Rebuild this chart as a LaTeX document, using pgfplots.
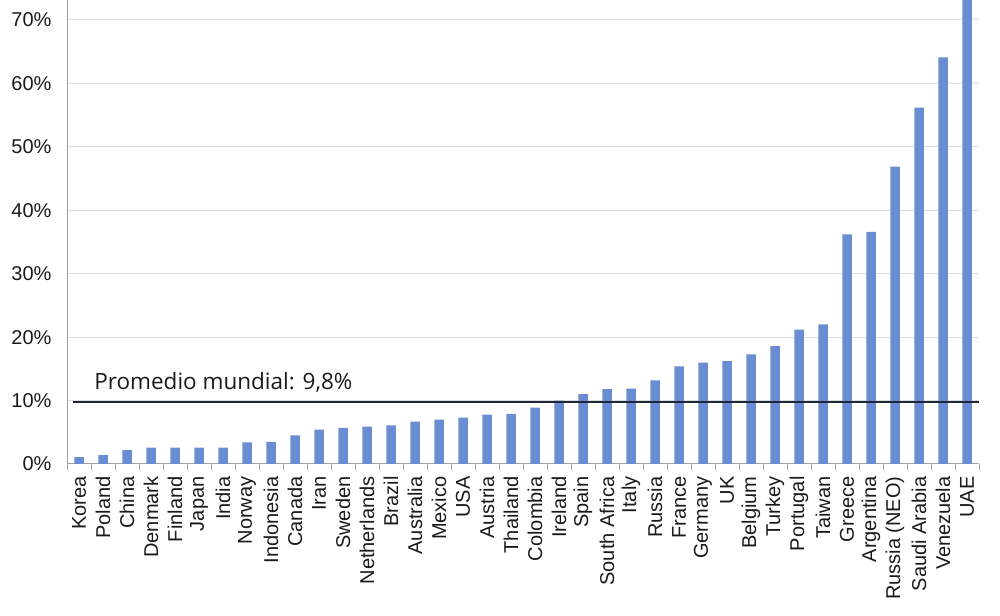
\documentclass[border=0pt]{standalone}
\usepackage{fontspec}
\setmainfont{Liberation Sans}
\newfontfamily\labelfont{Open Sans}
\usepackage{pgfplots}
\usepackage{pgfplotstable}
\pgfplotsset{compat=1.18}
\definecolor{barblue}{HTML}{6A8CD2}
\definecolor{avgline}{HTML}{1E2838}
\definecolor{gridgray}{HTML}{DCDCDC}
\definecolor{axisgray}{HTML}{A0A0A0}
\definecolor{txt}{HTML}{1A1A1A}
\newcommand{\tfont}{\fontsize{20}{20}\selectfont}
\newcommand{\xfont}{\fontsize{20}{20}\selectfont}
\pgfplotstableread[col sep=comma]{
idx,value
0,1.1
1,1.4
2,2.2
3,2.6
4,2.6
5,2.6
6,2.6
7,3.4
8,3.5
9,4.5
10,5.4
11,5.7
12,5.9
13,6.1
14,6.7
15,7.0
16,7.3
17,7.8
18,7.9
19,8.9
20,10.0
21,11.0
22,11.8
23,11.9
24,13.2
25,15.4
26,16.0
27,16.2
28,17.3
29,18.6
30,21.2
31,22.0
32,36.2
33,36.6
34,46.9
35,56.2
36,64.1
37,80.0
}\datatable
\begin{document}
\begin{tikzpicture}
\path[use as bounding box] (0,0) rectangle (1000pt,615pt);
\begin{axis}[
  at={(67pt,151pt)}, anchor=south west,
  scale only axis,
  width=912pt, height=464pt,
  xmin=-0.5, xmax=37.5,
  ymin=0, ymax=73.15,
  axis lines*=left,
  axis line style={axisgray, line width=1pt},
  ymajorgrids,
  grid style={gridgray, line width=1pt},
  ytick={0,10,20,30,40,50,60,70},
  yticklabels={0\%,10\%,20\%,30\%,40\%,50\%,60\%,70\%},
  xtick={0,...,37},
  xticklabels={Korea,Poland,China,Denmark,Finland,Japan,India,Norway,Indonesia,Canada,Iran,Sweden,Netherlands,Brazil,Australia,Mexico,USA,Austria,Thailand,Colombia,Ireland,Spain,South Africa,Italy,Russia,France,Germany,UK,Belgium,Turkey,Portugal,Taiwan,Greece,Argentina,Russia (NEO),Saudi Arabia,Venezuela,UAE},
  minor xtick={-0.5,0.5,...,37.5},
  tick align=outside,
  major tick length=0pt,
  minor tick length=6pt,
  minor tick style={axisgray, line width=1pt},
  y tick label style={font=\tfont, text=txt, xshift=-12pt},
  x tick label style={font=\xfont, text=txt, yshift=-9pt, rotate=90, anchor=east},
  clip=true,
]
\addplot[ybar, bar width=9.5pt, fill=barblue, draw=none] table[x=idx, y=value] {\datatable};
\addplot[avgline, line width=1.6pt] coordinates {(-0.27,9.8) (37.52,9.8)};
\node[anchor=base west, text=txt, font=\labelfont\fontsize{22.5}{23}\selectfont, inner sep=0pt] at (axis cs:0.63,11.8) {Promedio mundial: 9,8\%};
\end{axis}
\end{tikzpicture}
\end{document}
